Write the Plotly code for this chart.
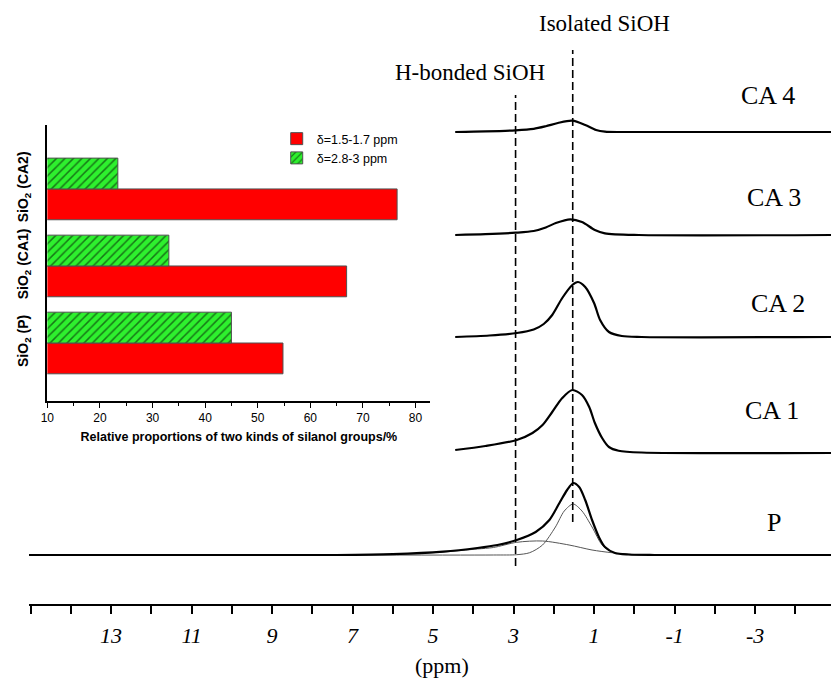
import plotly.graph_objects as go

# ---------------- data ----------------
# main 1H NMR spectra: chemical shift (ppm) and intensity above own baseline (a.u.)
P_ppm = [15.04, 7.4, 6.0, 4.75, 3.9, 3.4, 2.92, 2.45, 2.11, 1.86, 1.67, 1.52, 1.37, 1.22, 1.05, 0.88, 0.73, 0.48, 0.14, -0.5, -4.89]
P_int = [0, 0, 0.8, 3.3, 7, 10, 15, 23, 35, 52, 65, 72, 68, 55, 35, 18, 8, 2, 0.5, 0, 0]

P_iso_ppm = [7.4, 3.5, 2.92, 2.6, 2.28, 1.96, 1.74, 1.52, 1.30, 1.05, 0.8, 0.56, 0.2, -0.9]
P_iso_int = [0, 0, 0.3, 2.3, 10, 28, 44, 51, 44, 28, 10, 3, 0.5, 0]

P_hb_ppm = [7.4, 5.7, 4.75, 3.9, 3.5, 2.92, 2.28, 1.62, 1.05, 0.56, 0.0, -0.9]
P_hb_int = [0, 1, 3, 6, 7.5, 12.7, 14, 10, 5, 2.3, 0.5, 0]

CA1_ppm = [4.45, 3.7, 2.92, 2.53, 2.28, 2.04, 1.79, 1.54, 1.30, 1.12, 0.98, 0.80, 0.63, 0.39, -0.18, -4.89]
CA1_int = [3, 7, 13, 20, 28, 41, 55, 63, 58, 46, 30, 15, 6, 2.3, 0.5, 0]

CA2_ppm = [4.45, 3.6, 2.92, 2.5, 2.25, 2.04, 1.79, 1.54, 1.40, 1.22, 1.00, 0.85, 0.63, 0.31, -0.18, -4.89]
CA2_int = [0, 1.5, 4, 7.5, 13, 22, 39, 52, 55, 50, 34, 17, 5, 1, 0, 0]

CA3_ppm = [4.45, 3.7, 2.95, 2.5, 2.2, 1.95, 1.59, 1.30, 0.98, 0.73, -0.11, -4.89]
CA3_int = [0, 0.8, 2.3, 4, 7.5, 12, 15.7, 13, 5, 1.7, 0, 0]

CA4_ppm = [4.45, 3.7, 2.95, 2.5, 2.2, 1.9, 1.54, 1.22, 0.95, 0.73, 0.2, -4.89]
CA4_int = [0, 0.6, 1.7, 3.2, 5.8, 9, 11.3, 7, 2, 0.3, 0, 0]

spectrum_names = ["P", "CA 1", "CA 2", "CA 3", "CA 4"]
spectrum_offsets = [49, 151, 267, 369, 472]

marker_names = ["H-bonded SiOH", "Isolated SiOH"]
marker_ppm = [2.95, 1.53]

x_tick_values = [13, 11, 9, 7, 5, 3, 1, -1, -3]
x_tick_labels = ["13", "11", "9", "7", "5", "3", "1", "-1", "-3"]
x_minor_values = [15, 14, 12, 10, 8, 6, 4, 2, 0, -2, -4]

# inset bar chart
bar_categories = ["SiO<sub>2</sub> (P)", "SiO<sub>2</sub> (CA1)", "SiO<sub>2</sub> (CA2)"]
isolated_pct = [54.8, 66.9, 76.5]     # δ=1.5-1.7 ppm
hbonded_pct = [45.0, 33.1, 23.4]      # δ=2.8-3 ppm

# ---------------- figure ----------------
W, H = 831, 682
fig = go.Figure()

SERIF = "Liberation Serif"
SANS = "Liberation Sans"


def stack(vals, off):
    return [v + off for v in vals]


spectra = [(P_ppm, P_int), (CA1_ppm, CA1_int), (CA2_ppm, CA2_int), (CA3_ppm, CA3_int), (CA4_ppm, CA4_int)]

# thin deconvolution components of P
for xs, ys in [(P_iso_ppm, P_iso_int), (P_hb_ppm, P_hb_int)]:
    fig.add_trace(go.Scatter(x=xs, y=stack(ys, spectrum_offsets[0]), mode="lines",
                             line=dict(color="#555555", width=1, shape="spline", smoothing=0.8),
                             showlegend=False, hoverinfo="skip", xaxis="x", yaxis="y"))

for (xs, ys), name, off in zip(spectra, spectrum_names, spectrum_offsets):
    fig.add_trace(go.Scatter(x=xs, y=stack(ys, off), mode="lines", name=name,
                             line=dict(color="black", width=2.2, shape="spline", smoothing=0.8),
                             showlegend=False, xaxis="x", yaxis="y"))

# dashed reference lines
marker_y = [(38, 509), (82, 554)]
for xv, (y0, y1) in zip(marker_ppm, marker_y):
    fig.add_shape(type="line", xref="x", yref="y", x0=xv, x1=xv, y0=y0, y1=y1,
                  line=dict(color="black", width=1.6, dash="8px,4px"))

# inset bars
fig.add_trace(go.Bar(y=bar_categories, x=isolated_pct, orientation="h", name="δ=1.5-1.7 ppm",
                     marker=dict(color="#ff0000", line=dict(color="#505050", width=1)),
                     xaxis="x2", yaxis="y2"))
fig.add_trace(go.Bar(y=bar_categories, x=hbonded_pct, orientation="h", name="δ=2.8-3 ppm",
                     marker=dict(color="#2ef02e", line=dict(color="#505050", width=1),
                                 pattern=dict(shape="/", fgcolor="black", size=6, solidity=0.25,
                                              fillmode="overlay")),
                     xaxis="x2", yaxis="y2"))

ann = []
# spectrum labels
label_pos = [(-3.48, 82), (-3.43, 194), (-3.56, 301), (-3.46, 407), (-3.31, 509)]
for name, (lx, ly) in zip(spectrum_names, label_pos):
    ann.append(dict(x=lx, y=ly, xref="x", yref="y", text=name, showarrow=False,
                    xanchor="center", yanchor="middle",
                    font=dict(family=SERIF, size=26, color="black")))
# reference line labels
ann.append(dict(x=4.08, y=532, xref="x", yref="y", text=marker_names[0], showarrow=False,
                xanchor="center", yanchor="middle",
                font=dict(family=SERIF, size=23, color="black")))
ann.append(dict(x=0.73, y=581, xref="x", yref="y", text=marker_names[1], showarrow=False,
                xanchor="center", yanchor="middle",
                font=dict(family=SERIF, size=23, color="black")))
# x axis title
ann.append(dict(x=439 / W, y=(604 - 665) / 604, xref="paper", yref="paper", text="(ppm)",
                showarrow=False, xanchor="center", yanchor="middle",
                font=dict(family=SERIF, size=22, color="black")))

fig.update_layout(
    width=W, height=H,
    margin=dict(l=0, r=0, t=0, b=78, pad=0),
    paper_bgcolor="white", plot_bgcolor="rgba(0,0,0,0)",
    barmode="group", bargap=0.2, bargroupgap=0,
    annotations=ann,
    xaxis=dict(domain=[22 / W, 1], range=[15.044, -4.887], anchor="y",
               showline=True, linecolor="black", linewidth=2.4,
               ticks="outside", ticklen=8, tickwidth=2, tickcolor="black",
               tickvals=x_tick_values, ticktext=x_tick_labels,
               minor=dict(tickvals=x_minor_values, ticks="outside", ticklen=8, tickwidth=2,
                          tickcolor="black", showgrid=False),
               tickfont=dict(family=SERIF, size=22, color="black", style="italic"),
               ticklabelstandoff=2,
               showgrid=False, zeroline=False),
    yaxis=dict(domain=[0, 1], range=[0, 604], visible=False, showgrid=False, zeroline=False),
    xaxis2=dict(domain=[40.7 / W, 427 / W], range=[10, 82.83], anchor="y2",
                showline=True, linecolor="black", linewidth=1.5,
                ticks="outside", ticklen=5, tickwidth=1, tickcolor="black",
                tickvals=[10, 20, 30, 40, 50, 60, 70, 80],
                minor=dict(tickvals=[15, 25, 35, 45, 55, 65, 75], ticklen=3, ticks="outside",
                           tickcolor="black", showgrid=False),
                tickfont=dict(family=SANS, size=12, color="black"),
                title=dict(text="<b>Relative proportions of two kinds of silanol groups/%</b>",
                           font=dict(family=SANS, size=12.5, color="black"), standoff=8),
                showgrid=False, zeroline=False),
    yaxis2=dict(domain=[(604 - 401) / 604, (604 - 125) / 604], range=[-0.753, 2.83], anchor="x2",
                type="category",
                showline=True, linecolor="black", linewidth=1.5, ticks="",
                ticklabelstandoff=12,
                tickangle=-90, tickfont=dict(family=SANS, size=14, color="black", weight="bold"),
                showgrid=False, zeroline=False),
    legend=dict(x=272 / W, y=(604 - 124) / 604, xanchor="left", yanchor="top",
                bgcolor="rgba(0,0,0,0)", font=dict(family=SANS, size=12.5, color="black"),
                tracegroupgap=0, itemwidth=30),
)

fig.write_html("out.html", config={"displayModeBar": False},
               post_script="document.body.style.margin='0px';document.body.style.overflow='hidden';")
